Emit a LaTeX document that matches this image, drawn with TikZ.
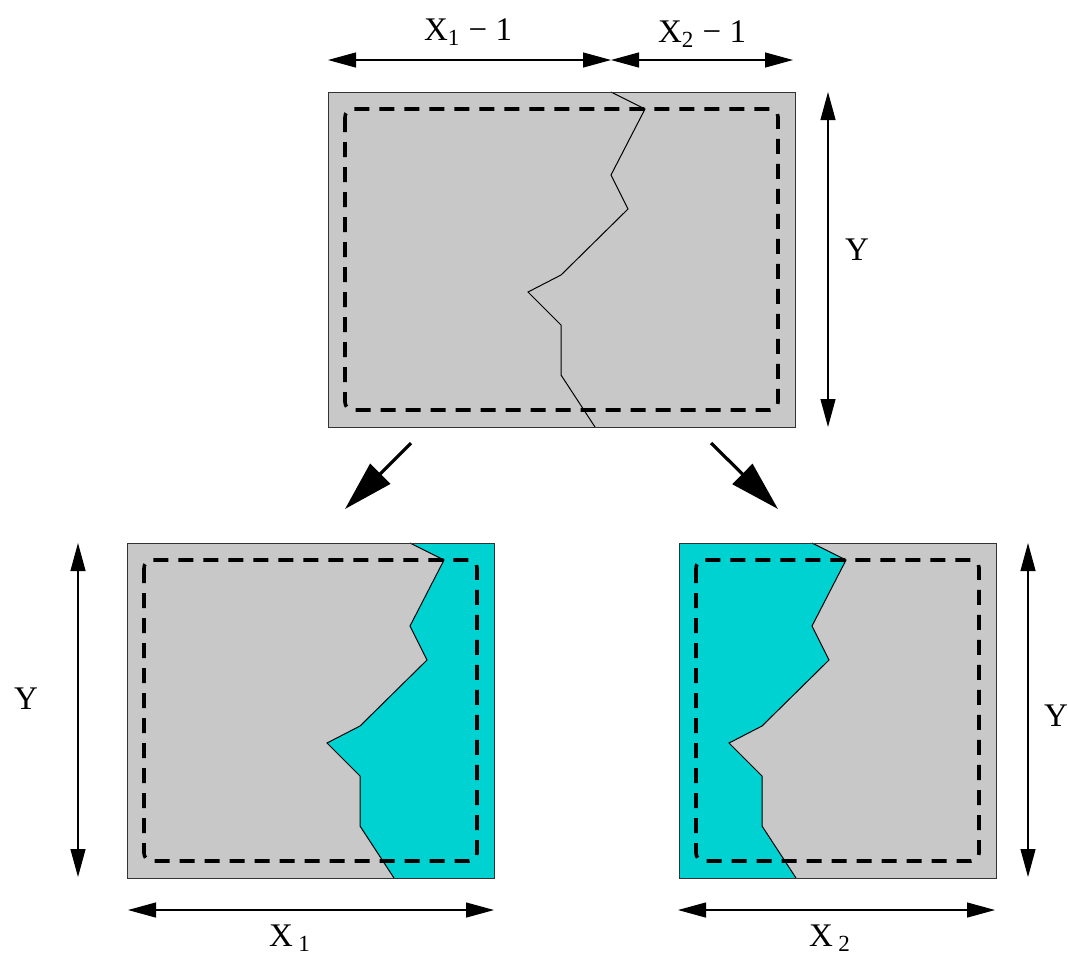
\documentclass[tikz,border=0pt]{standalone}
\usepackage{fontspec}
\setmainfont{Liberation Serif}
\usetikzlibrary{arrows.meta}
\definecolor{slabgray}{RGB}{200,200,200}
\definecolor{slabcyan}{RGB}{0,209,209}
% crack through the slab, local coordinates
\newcommand{\crackpath}{(283,0) -- (317,17) -- (283,83) -- (300,117) -- (233,183) -- (200,200) -- (233,233) -- (233,283) -- (267,335)}
\begin{document}
\begin{tikzpicture}[x=0.5pt, y=-0.5pt,
    edge/.style={draw=black!80, line width=0.5pt},
    crack/.style={draw, line width=0.5pt},
    margin/.style={draw, line width=1.8pt, dash pattern=on 7.5pt off 5pt, rounded corners=4pt},
    dim/.style={{Triangle[length=14pt,width=7.5pt]}-{Triangle[length=14pt,width=7.5pt]}, line width=0.6pt},
    split/.style={-{Triangle[length=25pt,width=14pt]}, line width=1.6pt},
    lbl/.style={font=\fontsize{16.5}{20}\selectfont, inner sep=0pt}
]
\useasboundingbox (0,0) rectangle (1068,955);

% Whole slab
\begin{scope}[shift={(328,92)}]
\fill[slabgray] (0,0) rectangle (467,335);
\draw[crack] \crackpath;
\draw[edge] (0,0) rectangle (467,335);
\draw[margin] (17,17) rectangle (450,318);
\end{scope}

% Left part
\begin{scope}[shift={(127,543)}]
\fill[slabgray] (0,0) rectangle (367,335);
\fill[slabcyan] \crackpath -- (367,335) -- (367,0) -- cycle;
\draw[crack] \crackpath;
\draw[edge] (0,0) rectangle (367,335);
\draw[margin] (17,17) rectangle (350,318);
\end{scope}

% Right part
\begin{scope}[shift={(529,543)}]
\fill[slabgray] (150,0) rectangle (467,335);
\fill[slabcyan] \crackpath -- (150,335) -- (150,0) -- cycle;
\draw[crack] \crackpath;
\draw[edge] (150,0) rectangle (467,335);
\draw[margin] (167,17) rectangle (450,318);
\end{scope}

% Dimension ends
\coordinate (top1) at (328,60);
\coordinate (top2) at (611,60);
\coordinate (top3) at (793,60);
\coordinate (ytop1) at (828,92);
\coordinate (ytop2) at (828,427);
\coordinate (yleft1) at (78,543);
\coordinate (yleft2) at (78,877);
\coordinate (yright1) at (1028,543);
\coordinate (yright2) at (1028,877);
\coordinate (xleft1) at (128,910);
\coordinate (xleft2) at (494,910);
\coordinate (xright1) at (678,910);
\coordinate (xright2) at (995,910);

\draw[dim] (top1) -- (top2);
\draw[dim] (top2) -- (top3);
\draw[dim] (ytop1) -- (ytop2);
\draw[dim] (yleft1) -- (yleft2);
\draw[dim] (yright1) -- (yright2);
\draw[dim] (xleft1) -- (xleft2);
\draw[dim] (xright1) -- (xright2);

% Labels
\node[lbl, anchor=base] (lx1m) at (468,40) {X\textsubscript{1} − 1};
\node[lbl, anchor=base] (lx2m) at (702,42) {X\textsubscript{2} − 1};
\node[lbl] (lytop) at (857,250) {Y};
\node[lbl] (lyleft) at (26,699) {Y};
\node[lbl] (lyright) at (1056,716) {Y};
\node[lbl, anchor=base] (lx1) at (290,946) {X\,\textsubscript{1}};
\node[lbl, anchor=base] (lx2) at (830,946) {X\,\textsubscript{2}};

% Splitting
\coordinate (s1a) at (411,443);
\coordinate (s1b) at (345,509);
\coordinate (s2a) at (711,443);
\coordinate (s2b) at (778,509);
\draw[split] (s1a) -- (s1b);
\draw[split] (s2a) -- (s2b);
\end{tikzpicture}
\end{document}
